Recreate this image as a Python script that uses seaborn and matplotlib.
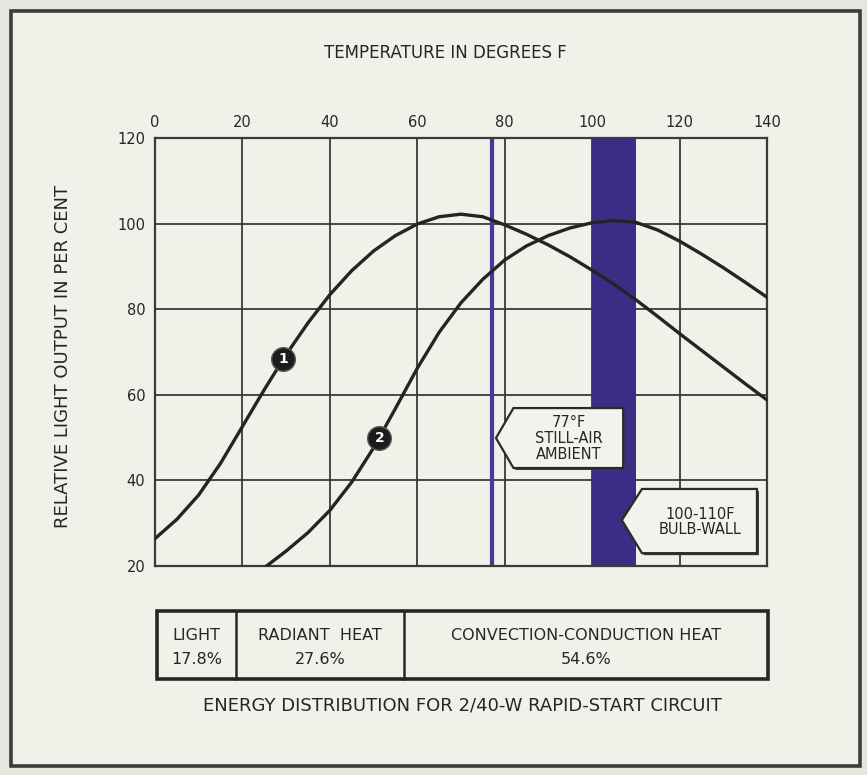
import numpy as np
import pandas as pd
import matplotlib
matplotlib.use("Agg")
import matplotlib.pyplot as plt
from matplotlib.patches import Polygon, Rectangle
from matplotlib.lines import Line2D
from matplotlib import transforms
import seaborn as sns

# ---- data -------------------------------------------------------------
temps_1 = list(range(0, 145, 5))
output_1 = [26.4, 30.9, 36.6, 44.0, 52.6, 61.2, 69.4, 76.8, 83.4, 89.0,
            93.6, 97.2, 99.9, 101.6, 102.2, 101.6, 99.7, 97.5, 95.0, 92.2,
            89.1, 85.8, 82.2, 78.3, 74.3, 70.4, 66.5, 62.6, 58.8]

temps_2 = list(range(25, 145, 5))
output_2 = [19.6, 23.5, 27.8, 33.0, 39.6, 47.6, 56.8, 66.2, 74.6, 81.5,
            87.0, 91.5, 94.8, 97.2, 99.0, 100.2, 100.7, 100.3, 98.5, 95.9,
            92.9, 89.7, 86.3, 82.8]

curve_labels = ["1", "2"]
curve_label_temps = [29.3, 51.3]

x_ticks = [0, 20, 40, 60, 80, 100, 120, 140]
y_ticks = [20, 40, 60, 80, 100, 120]

ambient_temp = 77
bulb_wall_range = [100, 110]

energy_parts = ["LIGHT", "RADIANT  HEAT", "CONVECTION-CONDUCTION HEAT"]
energy_shares = [17.8, 27.6, 54.6]

# ---- style ------------------------------------------------------------
sns.set_style("white")
plt.rcParams["font.family"] = ["DejaVu Sans"]
INK = "#262626"
GRID = "#3a3a3a"
PURPLE = "#3a2d86"
PAPER = "#f1f0e9"

W, H = 867, 775
fig = plt.figure(figsize=(W / 100, H / 100), dpi=100)
fig.patch.set_facecolor("#e7e6de")


def fx(px):
    return px / W


def fy(py):
    return 1 - py / H


# page frame
fig.add_artist(Rectangle((fx(11), fy(766)), fx(860) - fx(11), fy(11) - fy(766),
                         transform=fig.transFigure, facecolor=PAPER,
                         edgecolor="#3d3d3d", lw=2.6, zorder=-5))

ax = fig.add_axes([fx(155), fy(566), fx(767) - fx(155), fy(138) - fy(566)])
ax.set_facecolor("none")
ax.set_zorder(1)

# temperature bands
ax.axvspan(bulb_wall_range[0], bulb_wall_range[1], color=PURPLE, lw=0, zorder=1.5)
ax.axvline(ambient_temp, color="#46399a", lw=3, zorder=1.6)

# light output curves
curves = pd.concat([
    pd.DataFrame({"temp": temps_1, "output": output_1, "circuit": "1"}),
    pd.DataFrame({"temp": temps_2, "output": output_2, "circuit": "2"}),
])
sns.lineplot(data=curves, x="temp", y="output", hue="circuit",
             palette={"1": "#242424", "2": "#242424"}, lw=2.4,
             legend=False, ax=ax, zorder=3)
for ln in ax.lines[1:]:
    ln.set_solid_joinstyle("round")
    ln.set_solid_capstyle("round")

# numbered curve markers
for label, t, xs, ys in zip(curve_labels, curve_label_temps,
                            [temps_1, temps_2], [output_1, output_2]):
    v = np.interp(t, xs, ys)
    ax.scatter([t], [v], s=290, color="#1c1c1c", edgecolors="#5a5a5a",
               linewidths=1.0, zorder=4)
    ax.text(t, v, label, color="white", ha="center", va="center",
            fontsize=10, fontweight="bold", zorder=5)

ax.set_xlim(0, 140)
ax.set_ylim(20, 120)
ax.set_xticks(x_ticks)
ax.set_yticks(y_ticks)
ax.xaxis.tick_top()
ax.xaxis.set_label_position("top")
ax.tick_params(axis="both", length=0, labelsize=10.5, colors=INK)
ax.tick_params(axis="x", pad=6)
ax.tick_params(axis="y", pad=7)
ax.grid(True, color=GRID, lw=1.3)
ax.set_axisbelow(True)
for s in ax.spines.values():
    s.set_color(GRID)
    s.set_linewidth(1.6)

ax.set_xlabel("TEMPERATURE IN DEGREES F", fontsize=12, color=INK)
ax.xaxis.set_label_coords((445 - 155) / 612, (566 - 58) / 428)
ax.set_ylabel("RELATIVE LIGHT OUTPUT IN PER CENT", fontsize=13, color=INK)
ax.yaxis.set_label_coords((72 - 155) / 612, 0.49)


# arrow-shaped callouts
def callout(tip, left, right, bottom, top, text, tx, ty):
    pts = [tip, (left, top), (right, top), (right, bottom), (left, bottom)]
    shadow_tf = ax.transData + transforms.ScaledTranslation(
        2 / 100, -2 / 100, fig.dpi_scale_trans)
    ax.add_patch(Polygon(pts, closed=True, transform=shadow_tf,
                         facecolor="#3a3a3a", edgecolor="none", zorder=6))
    ax.add_patch(Polygon(pts, closed=True, facecolor="#f3f3ee",
                         edgecolor="#2a2a2a", lw=1.6, zorder=7))
    ax.text(tx, ty, text, ha="center", va="center", fontsize=10.5,
            color=INK, linespacing=1.05, zorder=8)


callout((ambient_temp + 1.0, 49.9), ambient_temp + 5.0, 107.1, 42.9, 56.9,
        f"{ambient_temp}°F\nSTILL-AIR\nAMBIENT", 94.6, 49.8)
callout((bulb_wall_range[1] - 3.2, 30.7), bulb_wall_range[1] + 1.4, 137.7,
        23.0, 38.0,
        f"{bulb_wall_range[0]}-{bulb_wall_range[1]}F\nBULB-WALL", 124.8, 30.3)

# energy distribution table
tbl_left, tbl_right, tbl_top, tbl_bot = 157, 768, 611, 679
col_edges = [tbl_left, 236, 404, tbl_right]
fig.add_artist(Rectangle((fx(tbl_left), fy(tbl_bot)), fx(tbl_right) - fx(tbl_left),
                         fy(tbl_top) - fy(tbl_bot), transform=fig.transFigure,
                         facecolor="none", edgecolor="#262626", lw=2.6))
for xe in col_edges[1:-1]:
    fig.add_artist(Line2D([fx(xe), fx(xe)], [fy(tbl_top), fy(tbl_bot)],
                          transform=fig.transFigure, color="#262626", lw=1.8))
for i, (part, share) in enumerate(zip(energy_parts, energy_shares)):
    cx = (col_edges[i] + col_edges[i + 1]) / 2
    fig.text(fx(cx), fy(636), part, ha="center", va="center",
             fontsize=11.5, color=INK)
    fig.text(fx(cx), fy(660), f"{share:.1f}%", ha="center", va="center",
             fontsize=11.5, color=INK)

fig.text(fx(462), fy(706), "ENERGY DISTRIBUTION FOR 2/40-W RAPID-START CIRCUIT",
         ha="center", va="center", fontsize=13, color=INK)

fig.savefig("out.png", dpi=100, facecolor=fig.get_facecolor())
